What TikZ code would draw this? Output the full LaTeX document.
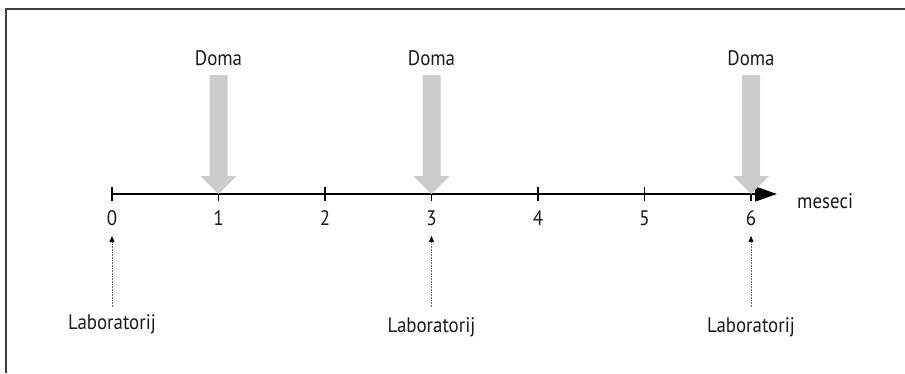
\documentclass[tikz,border=0pt]{standalone}
\usepackage{fontspec}
\setmainfont{PT Sans}[FakeStretch=0.9]
\usetikzlibrary{arrows.meta}
\begin{document}
\begin{tikzpicture}[x=1pt,y=-1pt,
  lbl/.style={font=\fontsize{21}{24}\selectfont, text=black!90, inner sep=0pt},
  tickmark/.style={line width=1.6pt, black},
  bigarrow/.style={fill=black!20, draw=none},
  labarrow/.style={densely dotted, black!60, line width=0.6pt, -{Triangle[length=6pt,width=5pt,fill=black,color=black]}}]
\useasboundingbox (0,0) rectangle (905,373);
\draw[black!75, line width=1.5pt] (905,9) -- (6,9) -- (6,373);
% axis
\coordinate (a0) at (112,194);
\coordinate (aend) at (777,194);
\draw[line width=1.6pt, -{Triangle[length=22pt,width=15pt]}] (a0) -- (aend);
\foreach \i in {0,...,6} {
  \coordinate (t\i) at ({112+106.5*\i},194);
  \draw[tickmark] ({112+106.5*\i},187) -- ({112+106.5*\i},201);
  \node[lbl, anchor=center] (n\i) at ({112+106.5*\i},218) {\i};
}
\node[lbl, anchor=west] (mes) at (797,201) {meseci};
% home arrows
\foreach \i/\nm in {1/d1,3/d3,6/d6} {
  \node[lbl] (\nm) at ({112+106.5*\i},58) {Doma};
  \fill[bigarrow] ({112+106.5*\i-9},75) -- ({112+106.5*\i+9},75) -- ({112+106.5*\i+9},176) -- ({112+106.5*\i+18},176) -- (t\i) -- ({112+106.5*\i-18},176) -- ({112+106.5*\i-9},176) -- cycle;
}
% lab arrows
\node[lbl] (l0) at (112,324) {Laboratorij};
\node[lbl] (l3) at (431.5,327) {Laboratorij};
\node[lbl] (l6) at (751,327) {Laboratorij};
\coordinate (l0top) at (112,307);
\coordinate (l3top) at (431.5,307);
\coordinate (l6top) at (751,307);
\coordinate (l0tip) at (112,236);
\coordinate (l3tip) at (431.5,236);
\coordinate (l6tip) at (751,236);
\draw[labarrow] (l0top) -- (l0tip);
\draw[labarrow] (l3top) -- (l3tip);
\draw[labarrow] (l6top) -- (l6tip);
\end{tikzpicture}
\end{document}
